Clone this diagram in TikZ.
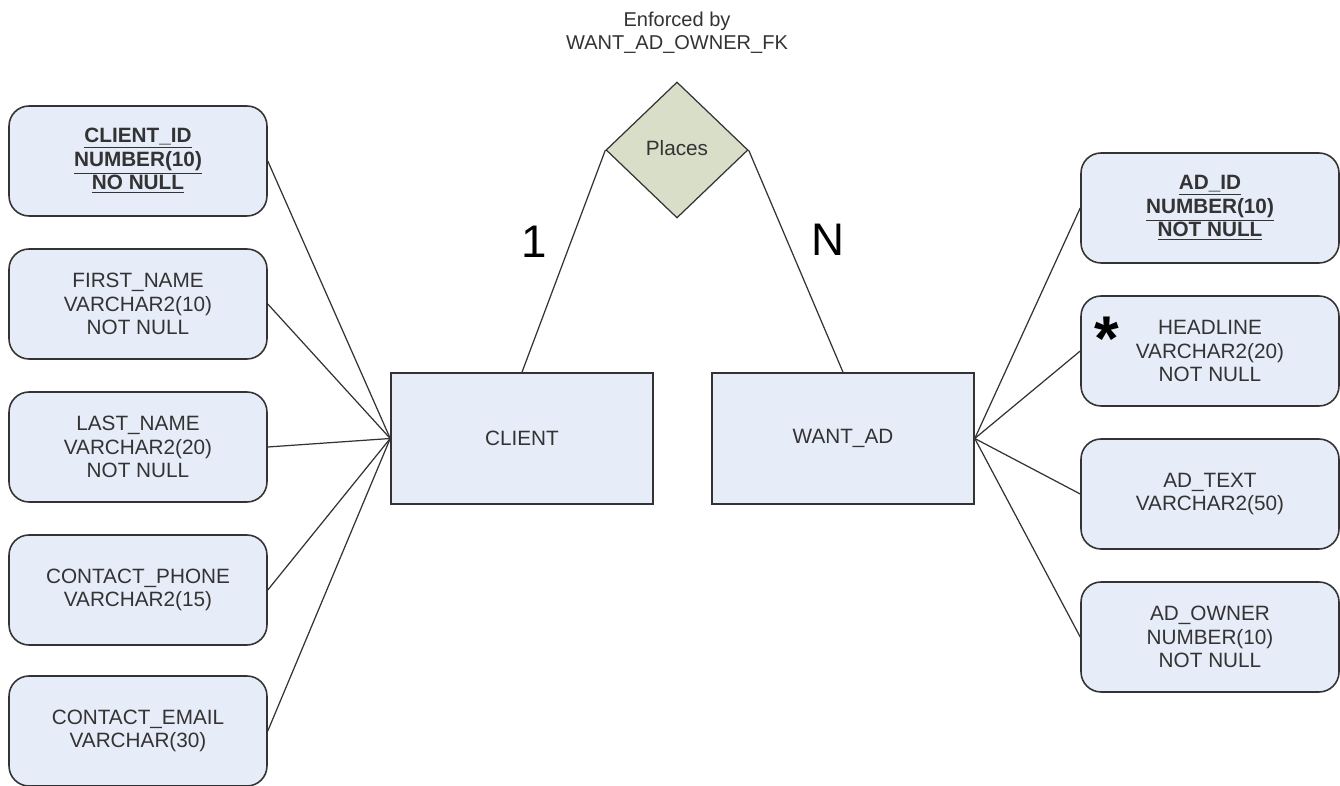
\documentclass[tikz,border=0pt]{standalone}
\usepackage{fontspec}
\setmainfont{Liberation Sans}
\usetikzlibrary{shapes.geometric}
\definecolor{boxblue}{RGB}{230,236,248}
\definecolor{relgreen}{RGB}{216,222,200}
\definecolor{edgegray}{RGB}{51,51,51}
\newcommand{\pk}[1]{\underline{\textbf{#1}}}

\begin{document}
\begin{tikzpicture}[x=0.02cm, y=-0.02cm,
  attr/.style={draw=edgegray, fill=boxblue, rounded corners=0.4cm, line width=0.9pt, minimum width=5.16cm, minimum height=2.2cm, align=center, text=edgegray, font=\fontsize{11.8}{13.4}\selectfont},
  entity/.style={draw=edgegray, fill=boxblue, line width=0.9pt, minimum width=5.24cm, minimum height=2.62cm, text=edgegray, font=\fontsize{11.8}{13.4}\selectfont},
  rel/.style={diamond, draw=edgegray, fill=relgreen, line width=0.7pt, inner sep=0pt, minimum width=2.84cm, minimum height=2.72cm, text=edgegray, font=\fontsize{11.8}{13.4}\selectfont},
  card/.style={font=\fontsize{26}{30}\selectfont},
  link/.style={draw=edgegray, line width=0.7pt}]

\useasboundingbox (0,0) rectangle (1340,786);

\node[align=center, text=edgegray, font=\fontsize{11.4}{13.3}\selectfont] (fk) at (677,33) {Enforced by\\WANT\_AD\_OWNER\_FK};
\node[rel] (places) at (677,150) {\raisebox{2pt}{Places}};

\node[entity] (client) at (522,438.5) {CLIENT};
\node[entity] (wantad) at (843,438.5) {WANT\_AD};

\node[attr] (clientid) at (138,161) {\pk{CLIENT\_ID}\\\pk{NUMBER(10)}\\\pk{NO NULL}};
\node[attr] (firstname) at (138,304) {FIRST\_NAME\\VARCHAR2(10)\\NOT NULL};
\node[attr] (lastname) at (138,447) {LAST\_NAME\\VARCHAR2(20)\\NOT NULL};
\node[attr] (phone) at (138,590) {CONTACT\_PHONE\\VARCHAR2(15)};
\node[attr] (email) at (138,731) {CONTACT\_EMAIL\\VARCHAR(30)};

\node[attr] (adid) at (1210,208) {\pk{AD\_ID}\\\pk{NUMBER(10)}\\\pk{NOT NULL}};
\node[attr] (headline) at (1210,351) {HEADLINE\\VARCHAR2(20)\\NOT NULL};
\node[attr] (adtext) at (1210,494) {AD\_TEXT\\VARCHAR2(50)};
\node[attr] (adowner) at (1210,637) {AD\_OWNER\\NUMBER(10)\\NOT NULL};

\node[font=\bfseries\fontsize{36}{36}\selectfont] (star) at (1107,339) {*};

\node[card] (one) at (534,242) {1};
\node[card] (many) at (828,240) {N};

\draw[link] (places.west) -- (client.north);
\draw[link] (places.east) -- (wantad.north);

\foreach \a in {clientid,firstname,lastname,phone,email}
  \draw[link] (\a.east) -- (client.west);
\foreach \a in {adid,headline,adtext,adowner}
  \draw[link] (\a.west) -- (wantad.east);

\end{tikzpicture}
\end{document}
